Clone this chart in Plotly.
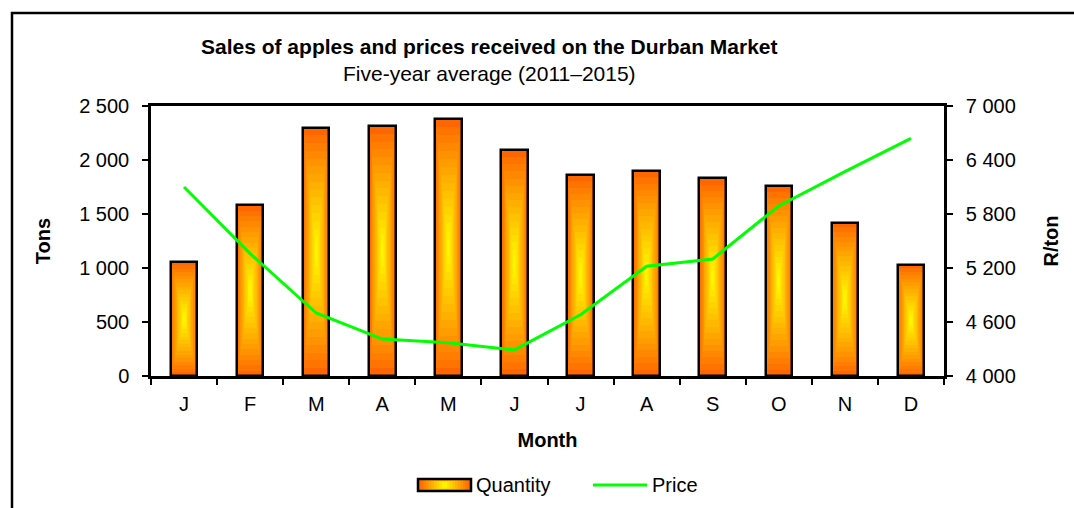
import plotly.graph_objects as go

# ---- data ----
month_keys = ["Jan", "Feb", "Mar", "Apr", "May", "Jun", "Jul", "Aug", "Sep", "Oct", "Nov", "Dec"]
month_labels = ["J", "F", "M", "A", "M", "J", "J", "A", "S", "O", "N", "D"]
quantity = [1060, 1580, 2300, 2315, 2380, 2090, 1860, 1900, 1830, 1760, 1420, 1030]
price = [6100, 5360, 4700, 4410, 4370, 4290, 4680, 5220, 5300, 5890, 6270, 6640]

FONT = "Arial, Liberation Sans, sans-serif"
FS = 20
W, H = 1074, 508
L, R, T, B = 151, 944, 106, 376  # plot area in pixels


def px(x):
    return (x - L) / (R - L)


def py(y):
    return (B - y) / (B - T)


def mix(t):
    c0 = (255, 102, 0)
    c1 = (255, 255, 0)
    return "rgb(%d,%d,%d)" % tuple(round(a + (b - a) * t) for a, b in zip(c0, c1))


fig = go.Figure()

BAR_W = 0.40
N = 16
for k in range(N):
    t = k / N
    fig.add_trace(go.Bar(
        x=month_keys,
        y=[q * (1 - t) for q in quantity],
        base=[q * t / 2 for q in quantity],
        width=BAR_W * (1 - t),
        marker=dict(color=mix(t ** 0.9), line=dict(width=0)),
        showlegend=False, hoverinfo="skip",
    ))

# outline of the bars
fig.add_trace(go.Bar(
    x=month_keys, y=quantity, width=BAR_W, name="Quantity",
    marker=dict(color="rgba(0,0,0,0)", line=dict(color="black", width=2.5)),
    showlegend=False,
))

fig.add_trace(go.Scatter(
    x=month_keys, y=price, name="Price", mode="lines", yaxis="y2",
    line=dict(color="#00FF00", width=3), showlegend=False,
))

shapes = []
# outer frame of the chart
shapes.append(dict(type="rect", xref="paper", yref="paper",
                   x0=px(12), x1=px(1200), y0=py(13), y1=py(700),
                   line=dict(color="black", width=2.5), layer="below"))

# custom legend swatch (gradient)
sx0, sx1, sy0, sy1 = 418, 471, 479, 491
M = 10
for k in range(M):
    t = k / M
    hx = (sx1 - sx0) / 2 * (1 - t)
    hy = (sy1 - sy0) / 2 * (1 - t * 0.5)
    cx, cy = (sx0 + sx1) / 2, (sy0 + sy1) / 2
    shapes.append(dict(type="rect", xref="paper", yref="paper",
                       x0=px(cx - hx), x1=px(cx + hx), y0=py(cy - hy), y1=py(cy + hy),
                       fillcolor=mix(t), line=dict(width=0)))
shapes.append(dict(type="rect", xref="paper", yref="paper",
                   x0=px(sx0), x1=px(sx1), y0=py(sy0), y1=py(sy1),
                   line=dict(color="black", width=2.5)))
shapes.append(dict(type="line", xref="paper", yref="paper",
                   x0=px(593), x1=px(647), y0=py(485), y1=py(485),
                   line=dict(color="#00FF00", width=3)))

annotations = [
    dict(text="<b>Sales of apples and prices received on the Durban Market</b>",
         xref="paper", yref="paper", x=px(489), y=py(47), showarrow=False,
         xanchor="center", yanchor="middle", font=dict(size=21, color="black")),
    dict(text="Five-year average (2011–2015)",
         xref="paper", yref="paper", x=px(489), y=py(73), showarrow=False,
         xanchor="center", yanchor="middle", font=dict(size=21, color="black")),
    dict(text="Quantity", xref="paper", yref="paper", x=px(474), y=py(485),
         showarrow=False, xanchor="left", yanchor="middle", font=dict(size=FS, color="black")),
    dict(text="Price", xref="paper", yref="paper", x=px(650), y=py(485),
         showarrow=False, xanchor="left", yanchor="middle", font=dict(size=FS, color="black")),
]

axis_common = dict(showline=True, linecolor="black", linewidth=2.5, ticks="outside",
                   ticklen=6, tickwidth=2, tickcolor="black", showgrid=False, zeroline=False,
                   tickfont=dict(size=FS, color="black"))

fig.update_layout(
    width=W, height=H,
    margin=dict(l=L, r=W - R, t=T, b=H - B),
    paper_bgcolor="white", plot_bgcolor="white",
    font=dict(family=FONT, color="black"),
    separators=". ",
    barmode="overlay",
    bargap=0,
    showlegend=False,
    xaxis=dict(**axis_common, mirror=True, type="category", tickson="boundaries",
               tickmode="array", tickvals=month_keys, ticktext=month_labels,
               range=[-0.5, 11.5], ticklabelstandoff=8,
               title=dict(text="<b>Month</b>", font=dict(size=FS), standoff=20)),
    yaxis=dict(**axis_common, range=[0, 2500], tick0=0, dtick=500, tickformat=",d",
               ticklabelstandoff=9,
               title=dict(text="<b>Tons</b>", font=dict(size=FS), standoff=24)),
    yaxis2=dict(**axis_common, overlaying="y", side="right", range=[4000, 7000],
                tick0=4000, dtick=600, tickformat=",d", ticklabelstandoff=9,
                title=dict(text="<b>R/ton</b>", font=dict(size=FS), standoff=30)),
    shapes=shapes,
    annotations=annotations,
)

fig.write_html("out.html", config={"displayModeBar": False},
               post_script="document.body.style.margin='0px';")
